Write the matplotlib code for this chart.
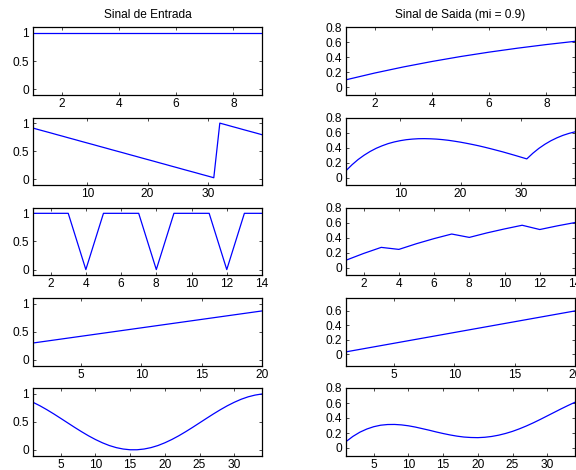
import matplotlib
matplotlib.use("Agg")
import matplotlib.pyplot as plt

plt.rcParams['font.family'] = ['Liberation Sans', 'DejaVu Sans']

# ---- data ----
title_in = "Sinal de Entrada"
title_out = "Sinal de Saida (mi = 0.9)"

in1 = [1, 1, 1, 1, 1, 1, 1, 1, 1]
out1 = [0.100, 0.190, 0.271, 0.344, 0.410, 0.469, 0.522, 0.570, 0.613]

in2 = [0.912, 0.882, 0.853, 0.824, 0.794, 0.765, 0.735, 0.706, 0.676, 0.647,
       0.618, 0.588, 0.559, 0.529, 0.500, 0.471, 0.441, 0.412, 0.382, 0.353,
       0.324, 0.294, 0.265, 0.235, 0.206, 0.176, 0.147, 0.118, 0.088, 0.059,
       0.029, 1.000, 0.971, 0.941, 0.912, 0.882, 0.853, 0.824, 0.794]
out2 = [0.091, 0.170, 0.239, 0.297, 0.347, 0.389, 0.423, 0.452, 0.474, 0.491,
        0.504, 0.512, 0.517, 0.518, 0.516, 0.512, 0.505, 0.496, 0.484, 0.471,
        0.456, 0.440, 0.423, 0.404, 0.384, 0.363, 0.342, 0.319, 0.296, 0.272,
        0.248, 0.323, 0.388, 0.443, 0.490, 0.529, 0.562, 0.588, 0.609]

in3 = [1, 1, 1, 0, 1, 1, 1, 0, 1, 1, 1, 0, 1, 1]
out3 = [0.100, 0.190, 0.271, 0.244, 0.320, 0.388, 0.449, 0.404, 0.464, 0.517,
        0.566, 0.509, 0.558, 0.602]

in4 = [0.30, 0.33, 0.36, 0.39, 0.42, 0.45, 0.48, 0.51, 0.54, 0.57,
       0.60, 0.63, 0.66, 0.69, 0.72, 0.75, 0.78, 0.81, 0.84, 0.87]
out4 = [0.03, 0.06, 0.09, 0.12, 0.15, 0.18, 0.21, 0.24, 0.27, 0.30,
        0.33, 0.36, 0.39, 0.42, 0.45, 0.48, 0.51, 0.54, 0.57, 0.60]

in5 = [0.846, 0.784, 0.714, 0.639, 0.560, 0.480, 0.400, 0.323, 0.250, 0.184,
       0.126, 0.077, 0.040, 0.015, 0.002, 0.002, 0.015, 0.040, 0.077, 0.126,
       0.184, 0.250, 0.323, 0.400, 0.480, 0.560, 0.639, 0.714, 0.784, 0.846,
       0.900, 0.943, 0.974, 0.994]
out5 = [0.085, 0.155, 0.211, 0.253, 0.284, 0.304, 0.313, 0.314, 0.308, 0.296,
        0.279, 0.258, 0.237, 0.214, 0.193, 0.174, 0.158, 0.146, 0.140, 0.138,
        0.143, 0.154, 0.171, 0.194, 0.222, 0.256, 0.294, 0.336, 0.381, 0.428,
        0.475, 0.522, 0.567, 0.610]

inputs = [in1, in2, in3, in4, in5]
outputs = [out1, out2, out3, out4, out5]
xticks = [[2, 4, 6, 8], [10, 20, 30], [2, 4, 6, 8, 10, 12, 14],
          [5, 10, 15, 20], [5, 10, 15, 20, 25, 30]]
in_yticks = [0, 0.5, 1]
out_yticks = [[0, 0.2, 0.4, 0.6, 0.8]] * 3 + [[0, 0.2, 0.4, 0.6]] + [[0, 0.2, 0.4, 0.6, 0.8]]
out_ylims = [(-0.1, 0.8)] * 3 + [(-0.16, 0.78)] + [(-0.1, 0.8)]

W, H = 576, 470
fig = plt.figure(figsize=(W / 100, H / 100), dpi=100)

tops = [27.3, 117.5, 207.7, 298.0, 388.0]
ax_h = 67.5
left_x0, right_x0, ax_w = 33.0, 346.0, 229.0
FS = 8.6

def style(ax):
    ax.tick_params(direction='in', length=2.5, width=0.5, top=True, right=True,
                   labelsize=FS, colors='black')
    ax.tick_params(axis='x', pad=2.2)
    ax.tick_params(axis='y', pad=3)
    for s in ax.spines.values():
        s.set_linewidth(0.9)
        s.set_color('black')

for i in range(5):
    bottom = 1 - (tops[i] + ax_h) / H
    n = len(inputs[i])
    xs = list(range(1, n + 1))

    axl = fig.add_axes([left_x0 / W, bottom, ax_w / W, ax_h / H])
    axl.plot(xs, inputs[i], color='#0000ff', lw=0.9)
    axl.set_xlim(1, n)
    axl.set_ylim(-0.1, 1.1)
    axl.set_xticks(xticks[i])
    axl.set_yticks(in_yticks)
    axl.set_yticklabels(['0', '0.5', '1'])
    style(axl)

    axr = fig.add_axes([right_x0 / W, bottom, ax_w / W, ax_h / H])
    axr.plot(xs, outputs[i], color='#0000ff', lw=0.9)
    axr.set_xlim(1, n)
    axr.set_ylim(*out_ylims[i])
    axr.set_xticks(xticks[i])
    axr.set_yticks(out_yticks[i])
    axr.set_yticklabels(['0' if v == 0 else f'{v:g}' for v in out_yticks[i]])
    style(axr)

    if i == 0:
        axl.set_title(title_in, fontsize=FS, pad=6.5)
        axr.set_title(title_out, fontsize=FS, pad=6.5)

fig.savefig('out.png', dpi=100, facecolor='white')
